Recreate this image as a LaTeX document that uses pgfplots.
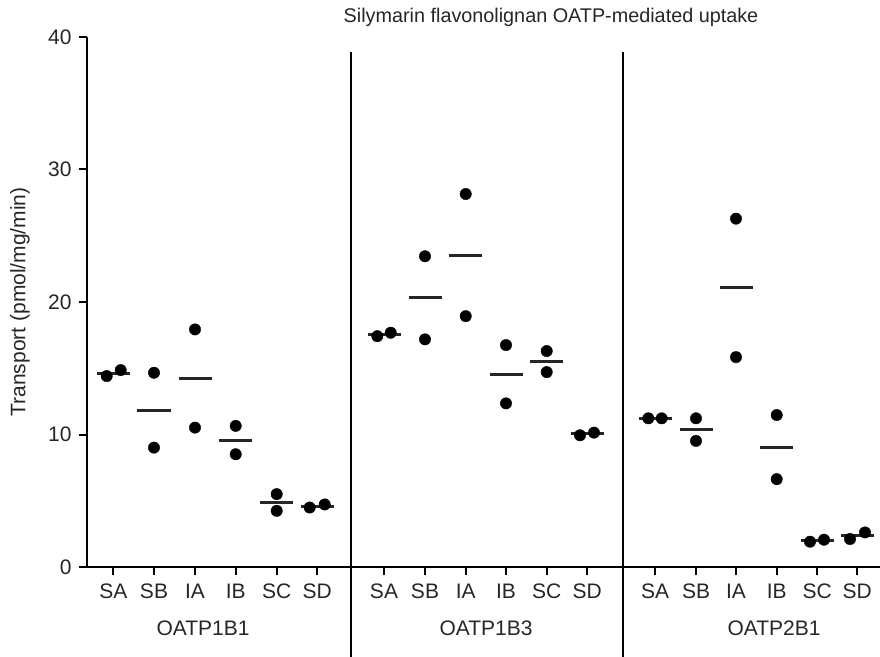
\documentclass[border=0pt]{standalone}
\usepackage{fontspec}
\setmainfont{Liberation Sans}
\usepackage{pgfplots}
\pgfplotsset{compat=1.18}
\begin{document}
\fontsize{21}{25}\selectfont
\begin{tikzpicture}
\begin{axis}[
  scale only axis, width=793.3pt, height=530pt,
  xmin=86.7, xmax=880, ymin=0, ymax=40,
  axis x line=bottom, axis y line=left,
  axis line style={-, line width=2pt, black},
  xtick={113.3,154,195,235.7,276.7,317.3,384,425,465.7,506,546.7,587.3,655,696,736,776.7,817.3,857.3},
  xticklabels={SA,SB,IA,IB,SC,SD,SA,SB,IA,IB,SC,SD,SA,SB,IA,IB,SC,SD},
  ytick={0,10,20,30,40},
  tick align=outside, major tick length=8pt,
  tick style={line width=2pt, black},
  /pgf/number format/assume math mode=true,
  ticklabel style={font=\fontsize{21}{25}\selectfont, text=black!85},
  xticklabel style={yshift=-2pt},
  clip=false,
]
% data points
\addplot[only marks, mark=*, mark size=5.7pt, black] coordinates {
 (106.7,14.41) (120.7,14.86)
 (154,14.66) (154,9.01)
 (195,17.93) (195,10.52)
 (235.7,10.65) (235.7,8.51)
 (276.7,5.50) (276.7,4.24)
 (309.7,4.49) (324.7,4.72)
 (377.3,17.42) (390.7,17.68)
 (425,23.45) (425,17.18)
 (465.7,28.15) (465.7,18.93)
 (506,16.75) (506,12.35)
 (546.7,16.30) (546.7,14.71)
 (580,9.94) (594,10.14)
 (648.3,11.22) (661.7,11.22)
 (696,11.22) (696,9.52)
 (736,26.29) (736,15.84)
 (776.7,11.47) (776.7,6.63)
 (810,1.91) (824,2.06)
 (850,2.11) (865,2.61)
};
% mean lines
\addplot[line width=3pt, black!85, mark=none, unbounded coords=jump] coordinates {
 (96.8,14.63) (129.8,14.63) (nan,nan)
 (137.5,11.84) (170.5,11.84) (nan,nan)
 (178.5,14.22) (211.5,14.22) (nan,nan)
 (219.2,9.58) (252.2,9.58) (nan,nan)
 (260.2,4.87) (293.2,4.87) (nan,nan)
 (300.8,4.60) (333.8,4.60) (nan,nan)
 (367.5,17.55) (400.5,17.55) (nan,nan)
 (408.5,20.32) (441.5,20.32) (nan,nan)
 (449.2,23.54) (482.2,23.54) (nan,nan)
 (489.5,14.55) (522.5,14.55) (nan,nan)
 (530.2,15.50) (563.2,15.50) (nan,nan)
 (570.8,10.04) (603.8,10.04) (nan,nan)
 (638.5,11.22) (671.5,11.22) (nan,nan)
 (679.5,10.37) (712.5,10.37) (nan,nan)
 (719.5,21.07) (752.5,21.07) (nan,nan)
 (760.2,9.05) (793.2,9.05) (nan,nan)
 (800.8,1.98) (833.8,1.98) (nan,nan)
 (840.8,2.36) (873.8,2.36)
};
% separators
\draw[line width=2pt, black] (axis cs:350.7,38.87) -- (axis cs:350.7,-6.8);
\draw[line width=2pt, black] (axis cs:623.3,38.87) -- (axis cs:623.3,-6.8);
% group labels
\node[text=black!85] at (axis cs:203,-4.6) {OATP1B1};
\node[text=black!85] at (axis cs:486,-4.6) {OATP1B3};
\node[text=black!85] at (axis cs:774,-4.6) {OATP2B1};
% title
\node[text=black!85, font=\fontsize{19.8}{24}\selectfont] at (axis cs:551,41.5) {Silymarin flavonolignan OATP-mediated uptake};
% y label
\node[rotate=90, text=black!85] at ([xshift=-66.7pt]axis cs:86.7,20) {Transport (pmol/mg/min)};
\end{axis}
\pgfresetboundingbox
\path[use as bounding box] (-86.7pt,-89pt) rectangle (793.3pt,567pt);
\end{tikzpicture}
\end{document}
